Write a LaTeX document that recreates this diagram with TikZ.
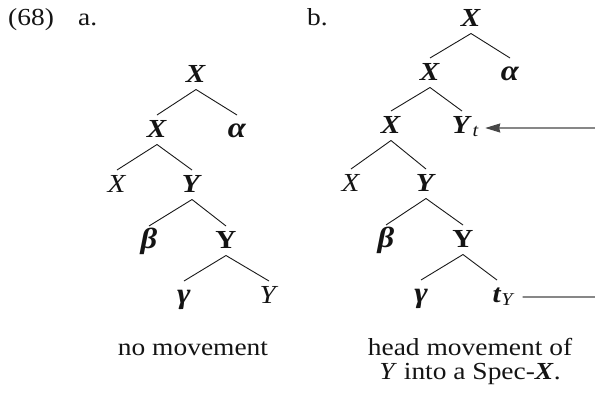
\documentclass[tikz,border=0pt]{standalone}
\usepackage{fontspec}
\setmainfont[FakeStretch=1.12]{Liberation Serif}
\usetikzlibrary{arrows.meta}
\newcommand\bi[1]{\textbf{\textit{#1}}}
\newcommand\gk[1]{{\fontsize{29bp}{30bp}\selectfont\textbf{\textit{#1}}}}
\tikzset{
  lab/.style={anchor=base, inner sep=0pt, font=\fontsize{26bp}{30bp}\selectfont, text=black!92},
  txt/.style={anchor=base, inner sep=0pt, font=\fontsize{24.5bp}{28bp}\selectfont, text=black!92},
  branch/.style={draw=black!90, line width=0.9bp},
  mover/.style={draw=black!72, line width=1.3bp}
}
\newcommand\br[2]{\draw[branch] ([yshift=-7.5bp]#1.base) -- ([yshift=22bp]#2.base);}
\begin{document}
\begin{tikzpicture}[x=1bp,y=-1bp]
\useasboundingbox (0,0) rectangle (595,395);
% headings
\node[txt,anchor=base west] (num) at (8,25) {(68)};
\node[txt,anchor=base west] (la) at (78,25) {a.};
\node[txt,anchor=base west] (lb) at (307,25) {b.};
% tree a
\node[lab] (a1) at (196,82) {\bi{X}};
\node[lab] (a2) at (157,137) {\bi{X}};
\node[lab] (a3) at (237,137) {\gk{α}};
\node[lab] (a4) at (117,192) {\textit{X}};
\node[lab] (a5) at (192,192) {\bi{Y}};
\node[lab] (a6) at (149,248) {\gk{β}};
\node[lab] (a7) at (226,248) {\textbf{Y}};
\node[lab] (a8) at (184,303) {\gk{γ}};
\node[lab] (a9) at (269,303) {\textit{Y}};
\br{a1}{a2}\br{a1}{a3}
\br{a2}{a4}\br{a2}{a5}
\br{a5}{a6}\br{a5}{a7}
\br{a7}{a8}\br{a7}{a9}
\node[txt] (capa) at (193,355) {no movement};
% tree b
\node[lab] (b1) at (471,26) {\bi{X}};
\node[lab] (b2) at (430,80) {\bi{X}};
\node[lab] (b3) at (510,80) {\gk{α}};
\node[lab] (b4) at (391,133) {\bi{X}};
\node[lab] (Yt) at (462,133) {\bi{Y}\rlap{\textsubscript{\kern0.5bp\textit{t}}}};
\node[lab] (b6) at (351,191) {\textit{X}};
\node[lab] (b7) at (426,191) {\bi{Y}};
\node[lab] (b8) at (386,247) {\gk{β}};
\node[lab] (b9) at (463,247) {\textbf{Y}};
\node[lab] (b10) at (421,302) {\gk{γ}};
\node[lab] (tY) at (497,302) {\bi{t}\rlap{\textsubscript{\textit{Y}}}};
\br{b1}{b2}\br{b1}{b3}
\br{b2}{b4}\br{b2}{Yt}
\br{b4}{b6}\br{b4}{b7}
\br{b7}{b8}\br{b7}{b9}
\br{b9}{b10}\br{b9}{tY}
\node[txt] (capb1) at (470,355) {head movement of};
\node[txt] (capb2) at (470,379) {\textit{Y} into a Spec-\bi{X}.};
% movement arrows
\coordinate (arrR) at (595,128);
\coordinate (lineR) at (595,297);
\draw[mover,-{Stealth[length=15bp,width=9bp,inset=1bp]}] (arrR) -- ([xshift=13bp,yshift=5bp]Yt.base east);
\draw[mover] ([xshift=21bp,yshift=5bp]tY.base east) -- (lineR);
\end{tikzpicture}
\end{document}
